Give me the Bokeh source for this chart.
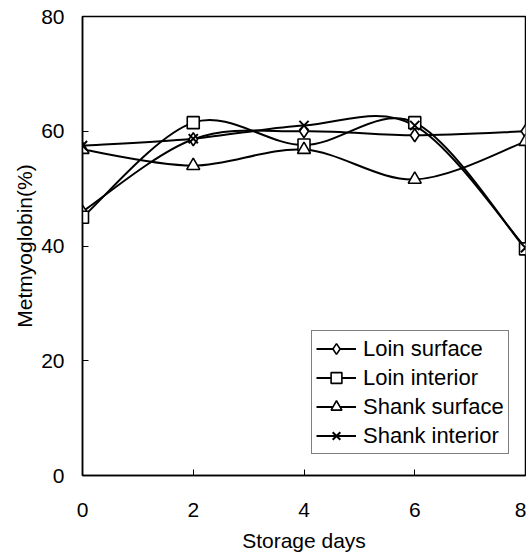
from bokeh.plotting import figure
from bokeh.models import Range1d, Legend, LegendItem, FixedTicker
from bokeh.embed import file_html
from bokeh.resources import INLINE

days = [0, 2, 4, 6, 8]
x_ticks = [0, 2, 4, 6, 8]
y_ticks = [0, 20, 40, 60, 80]
series_names = ["Loin surface", "Loin interior", "Shank surface", "Shank interior"]
loin_surface = [46.0, 58.6, 60.0, 59.3, 60.0]
loin_interior = [45.0, 61.5, 57.6, 61.5, 39.5]
shank_surface = [56.8, 54.0, 56.8, 51.6, 58.2]
shank_interior = [57.5, 58.7, 61.0, 61.0, 39.7]
markers = ["diamond", "square", "triangle", "x"]

FONT = "Liberation Sans"

p = figure(width=526, height=554, output_backend="svg", toolbar_location=None,
           x_range=Range1d(0, 8), y_range=Range1d(0, 80),
           min_border_left=82, min_border_right=1, min_border_top=16, min_border_bottom=76)

p.xgrid.visible = False
p.ygrid.visible = False
p.outline_line_color = "black"
p.outline_line_width = 1.5
p.background_fill_color = "white"
p.border_fill_color = "white"

for ax, ticks in ((p.xaxis[0], x_ticks), (p.yaxis[0], y_ticks)):
    ax.ticker = FixedTicker(ticks=ticks)
    ax.minor_tick_line_color = None
    ax.major_tick_in = 6
    ax.major_tick_out = 0
    ax.major_tick_line_color = "black"
    ax.axis_line_color = "black"
    ax.axis_line_width = 1.5
    ax.major_label_text_font = FONT
    ax.major_label_text_font_size = "21px"
    ax.major_label_text_color = "black"
    ax.axis_label_text_font = FONT
    ax.axis_label_text_font_size = "21px"
    ax.axis_label_text_font_style = "normal"
    ax.axis_label_text_color = "black"

p.xaxis.axis_label = "Storage days"
p.yaxis.axis_label = "Metmyoglobin(%)"
p.xaxis.major_label_standoff = 27
p.xaxis.axis_label_standoff = 9
p.yaxis.major_label_standoff = 18
p.yaxis.axis_label_standoff = 2


def bezier_controls(xs, ys):
    # Catmull-Rom style smoothing control points for drawing (data unchanged)
    n = len(xs)
    px = [xs[0]] + list(xs) + [xs[-1]]
    py = [ys[0]] + list(ys) + [ys[-1]]
    out = dict(x0=[], y0=[], x1=[], y1=[], cx0=[], cy0=[], cx1=[], cy1=[])
    for i in range(n - 1):
        p0x, p0y = px[i], py[i]
        p1x, p1y = px[i + 1], py[i + 1]
        p2x, p2y = px[i + 2], py[i + 2]
        p3x, p3y = px[i + 3], py[i + 3]
        out["x0"].append(p1x); out["y0"].append(p1y)
        out["x1"].append(p2x); out["y1"].append(p2y)
        out["cx0"].append(p1x + (p2x - p0x) / 6.0)
        out["cy0"].append(p1y + (p2y - p0y) / 6.0)
        out["cx1"].append(p2x - (p3x - p1x) / 6.0)
        out["cy1"].append(p2y - (p3y - p1y) / 6.0)
    return out


all_series = [loin_surface, loin_interior, shank_surface, shank_interior]
curve_renderers = []
for ys in all_series:
    c = bezier_controls(days, ys)
    r = p.bezier(x0=c["x0"], y0=c["y0"], x1=c["x1"], y1=c["y1"],
                 cx0=c["cx0"], cy0=c["cy0"], cx1=c["cx1"], cy1=c["cy1"],
                 line_color="black", line_width=2)
    curve_renderers.append(r)

marker_renderers = []
for ys, m in zip(all_series, markers):
    size = 13 if m != "square" else 12
    r = p.scatter(days, ys, marker=m, size=size, fill_color="white",
                  line_color="black", line_width=2 if m == "x" else 1.6)
    marker_renderers.append(r)

items = [LegendItem(label=name, renderers=[cr, mr])
         for name, cr, mr in zip(series_names, curve_renderers, marker_renderers)]
legend = Legend(items=items, location=(229, 21), margin=0, padding=4, spacing=2,
                glyph_width=40, glyph_height=27, label_height=27, label_standoff=7,
                label_text_font=FONT, label_text_font_size="22px", label_text_color="black",
                border_line_color="black", border_line_width=1.2,
                background_fill_color="white", background_fill_alpha=1.0)
p.add_layout(legend)

open("out.html", "w").write(file_html(p, INLINE))
